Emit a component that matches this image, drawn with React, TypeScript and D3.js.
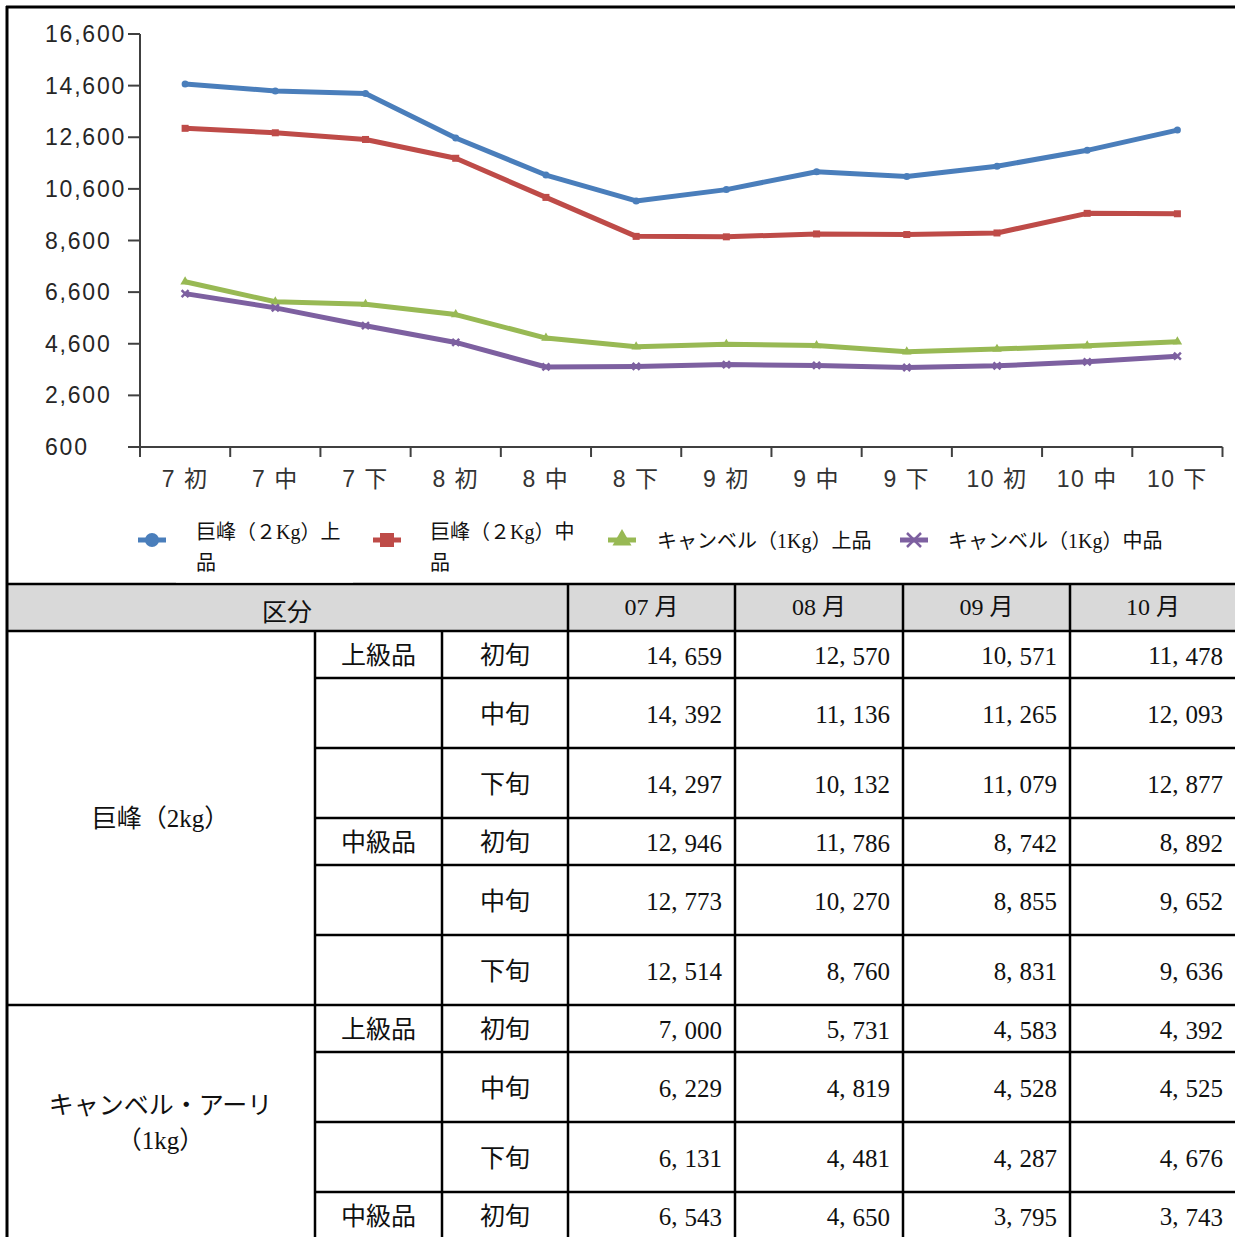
import React from "react";
import * as d3 from "d3";

const categories = ["7 初", "7 中", "7 下", "8 初", "8 中", "8 下", "9 初", "9 中", "9 下", "10 初", "10 中", "10 下"];
const kyohoJou = [14659, 14392, 14297, 12570, 11136, 10132, 10571, 11265, 11079, 11478, 12093, 12877];
const kyohoChu = [12946, 12773, 12514, 11786, 10270, 8760, 8742, 8855, 8831, 8892, 9652, 9636];
const campbellJou = [7000, 6229, 6131, 5731, 4819, 4481, 4583, 4528, 4287, 4392, 4525, 4676];
const campbellChu = [6543, 5990, 5300, 4650, 3700, 3720, 3795, 3760, 3680, 3743, 3900, 4120];
const yTicks = [600, 2600, 4600, 6600, 8600, 10600, 12600, 14600, 16600];
const months = ["07 月", "08 月", "09 月", "10 月"];
const periods = ["初旬", "中旬", "下旬"];
const grades = ["上級品", "中級品"];

const series = [
  { key: "kj", label: ["巨峰（２Kg）上", "品"], values: kyohoJou, color: "#4a7ebb", marker: "circle" },
  { key: "kc", label: ["巨峰（２Kg）中", "品"], values: kyohoChu, color: "#be4b48", marker: "square" },
  { key: "cj", label: ["キャンベル（1Kg）上品"], values: campbellJou, color: "#98b954", marker: "triangle" },
  { key: "cc", label: ["キャンベル（1Kg）中品"], values: campbellChu, color: "#7d60a0", marker: "cross" },
];

const W = 1235;
const H = 1237;
const fmt = d3.format(",");

function Marker({ type, x, y, size, color }) {
  const s = size;
  if (type === "circle") return <circle cx={x} cy={y} r={s / 2} fill={color} />;
  if (type === "square") return <rect x={x - s / 2} y={y - s / 2} width={s} height={s} fill={color} />;
  if (type === "triangle") {
    const p = d3.symbol().type(d3.symbolTriangle).size(s * s * 0.8)();
    return <path d={p} transform={`translate(${x},${y})`} fill={color} />;
  }
  return (
    <g stroke={color} strokeWidth={2.5}>
      <line x1={x - s / 2} y1={y - s / 2} x2={x + s / 2} y2={y + s / 2} />
      <line x1={x - s / 2} y1={y + s / 2} x2={x + s / 2} y2={y - s / 2} />
    </g>
  );
}

function Num({ x, y, v }) {
  const parts = fmt(v).split(",");
  return (
    <text x={x} y={y} textAnchor="end" dominantBaseline="central" fontFamily="'Liberation Serif', serif" fontSize={25} fill="#111">
      {parts.length > 1 ? (
        <>
          {parts[0]},<tspan dx={7}>{parts[1]}</tspan>
        </>
      ) : (
        parts[0]
      )}
    </text>
  );
}

export default function App() {
  // chart scales
  const x = d3.scaleBand().domain(categories).range([140, 1222.5]);
  const y = d3.scaleLinear().domain([600, 16600]).range([447, 34]);
  const line = d3
    .line<number>()
    .x((_, i) => x(categories[i])! + x.bandwidth() / 2)
    .y((d) => y(d));

  const tickXs = categories.map((c) => x(c)!).concat([x.range()[1]]);

  // table layout
  const colX = [6, 315, 442, 568, 735, 903, 1070, 1236];
  const headTop = 584;
  const headBottom = 631;
  const rowH = [47, 70, 70];
  const groups = [
    { name: ["巨峰（2kg）"], series: [kyohoJou, kyohoChu], nGrades: 2 },
    { name: ["キャンベル・アーリ", "（1kg）"], series: [campbellJou, campbellChu], nGrades: 2 },
  ];
  // rows visible: kyoho 6 rows, campbell 4 rows (cut by page)
  const rows = [];
  let yy = headBottom;
  const groupSpans = [];
  groups.forEach((g, gi) => {
    const start = yy;
    const maxRows = gi === 0 ? 6 : 4;
    let count = 0;
    for (let k = 0; k < g.nGrades && count < maxRows; k++) {
      for (let p = 0; p < 3 && count < maxRows; p++) {
        const h = rowH[p];
        rows.push({
          top: yy,
          h,
          grade: p === 0 ? grades[k] : "",
          period: periods[p],
          values: months.map((_, m) => g.series[k][m * 3 + p]),
        });
        yy += h;
        count++;
      }
    }
    groupSpans.push({ top: start, bottom: yy, name: g.name });
  });

  const jp = "'Liberation Serif', 'Noto Sans CJK JP', serif";
  const sans = "'Liberation Sans', Arial, 'Noto Sans CJK JP', sans-serif";

  return (
    <div style={{ position: "absolute", left: 0, top: 0 }}>
      <svg width={W} height={H} style={{ display: "block", background: "#fff" }}>
        {/* header fill */}
        <rect x={colX[0]} y={headTop} width={W - colX[0]} height={headBottom - headTop} fill="#d9d9d9" />

        {/* axes */}
        <g stroke="#404040" strokeWidth={2}>
          <line x1={140} y1={y(16600)} x2={140} y2={y(600)} />
          {yTicks.map((t) => (
            <line key={t} x1={128} y1={y(t)} x2={140} y2={y(t)} />
          ))}
          <line x1={140} y1={y(600)} x2={x.range()[1]} y2={y(600)} />
          {tickXs.map((tx, i) => (
            <line key={i} x1={tx} y1={y(600)} x2={tx} y2={y(600) + 10} />
          ))}
        </g>
        {yTicks.map((t) => (
          <text key={t} x={45} y={y(t)} dominantBaseline="central" fontFamily={sans} fontSize={23} letterSpacing={1.8} fill="#262626">
            {fmt(t)}
          </text>
        ))}
        {categories.map((c) => (
          <text
            key={c}
            x={x(c)! + x.bandwidth() / 2}
            y={479}
            textAnchor="middle"
            dominantBaseline="central"
            fontFamily={sans}
            fontSize={23}
            letterSpacing={1.5}
            fill="#333"
          >
            {c}
          </text>
        ))}

        {/* lines */}
        {series.map((s) => (
          <g key={s.key}>
            <path d={line(s.values)!} fill="none" stroke={s.color} strokeWidth={5} strokeLinejoin="round" />
            {s.values.map((v, i) => (
              <Marker key={i} type={s.marker} x={x(categories[i])! + x.bandwidth() / 2} y={y(v)} size={7} color={s.color} />
            ))}
          </g>
        ))}

        {/* legend */}
        {series.map((s, i) => {
          const mx = [152, 387, 622, 914][i];
          const tx = [196, 430, 657, 948][i];
          const ty = s.label.length > 1 ? 532 : 541;
          return (
            <g key={s.key}>
              <line x1={mx - 14} y1={540} x2={mx + 14} y2={540} stroke={s.color} strokeWidth={5} />
              <Marker type={s.marker} x={mx} y={540} size={14} color={s.color} />
              {s.label.map((l, j) => (
                <text key={j} x={tx} y={ty + j * 31} dominantBaseline="central" fontFamily={jp} fontSize={20} fill="#111">
                  {l}
                </text>
              ))}
            </g>
          );
        })}

        {/* table text */}
        <text x={(colX[0] + colX[3]) / 2} y={612} textAnchor="middle" dominantBaseline="central" fontFamily={jp} fontSize={25} fill="#111">
          区分
        </text>
        {months.map((m, i) => (
          <text
            key={m}
            x={(colX[3 + i] + colX[4 + i]) / 2}
            y={607}
            textAnchor="middle"
            dominantBaseline="central"
            fontFamily={jp}
            fontSize={24}
            fill="#111"
          >
            {m}
          </text>
        ))}
        {groupSpans.map((g, gi) => {
          const cy = (g.top + g.bottom) / 2;
          const lh = 35;
          const y0 = gi === 0 ? cy : 1123 - ((g.name.length - 1) * lh) / 2;
          return g.name.map((n, j) => (
            <text
              key={gi + "-" + j}
              x={(colX[0] + colX[1]) / 2}
              y={y0 + j * lh}
              textAnchor="middle"
              dominantBaseline="central"
              fontFamily={jp}
              fontSize={25}
              fill="#111"
            >
              {n}
            </text>
          ));
        })}
        {rows.map((r, i) => {
          const cy = r.top + r.h / 2 + 1;
          return (
            <g key={i}>
              {r.grade && (
                <text x={(colX[1] + colX[2]) / 2} y={cy} textAnchor="middle" dominantBaseline="central" fontFamily={jp} fontSize={25} fill="#111">
                  {r.grade}
                </text>
              )}
              <text x={(colX[2] + colX[3]) / 2} y={cy} textAnchor="middle" dominantBaseline="central" fontFamily={jp} fontSize={25} fill="#111">
                {r.period}
              </text>
              {r.values.map((v, m) => (
                <Num key={m} x={colX[4 + m] - 13} y={cy} v={v} />
              ))}
            </g>
          );
        })}

        {/* table grid */}
        <g stroke="#000" strokeWidth={2.5}>
          <line x1={colX[0]} y1={headTop} x2={W} y2={headTop} />
          <line x1={colX[0]} y1={headBottom} x2={W} y2={headBottom} />
          {colX.slice(3, 7).map((cx) => (
            <line key={cx} x1={cx} y1={headTop} x2={cx} y2={H + 5} />
          ))}
          <line x1={colX[1]} y1={headBottom} x2={colX[1]} y2={H + 5} />
          <line x1={colX[2]} y1={headBottom} x2={colX[2]} y2={H + 5} />
          {rows.slice(1).map((r, i) => (
            <line key={i} x1={r.top === groupSpans[1].top ? colX[0] : colX[1]} y1={r.top} x2={W} y2={r.top} />
          ))}
        </g>

        {/* outer border of chart and table */}
        <g stroke="#000" strokeWidth={3} fill="none">
          <line x1={6} y1={7} x2={W} y2={7} />
          <line x1={7} y1={6} x2={7} y2={H + 5} />
        </g>
        {/* legend label box covering border */}
        <rect x={176} y={572} width={177} height={10.5} fill="#fff" />
      </svg>
    </div>
  );
}
